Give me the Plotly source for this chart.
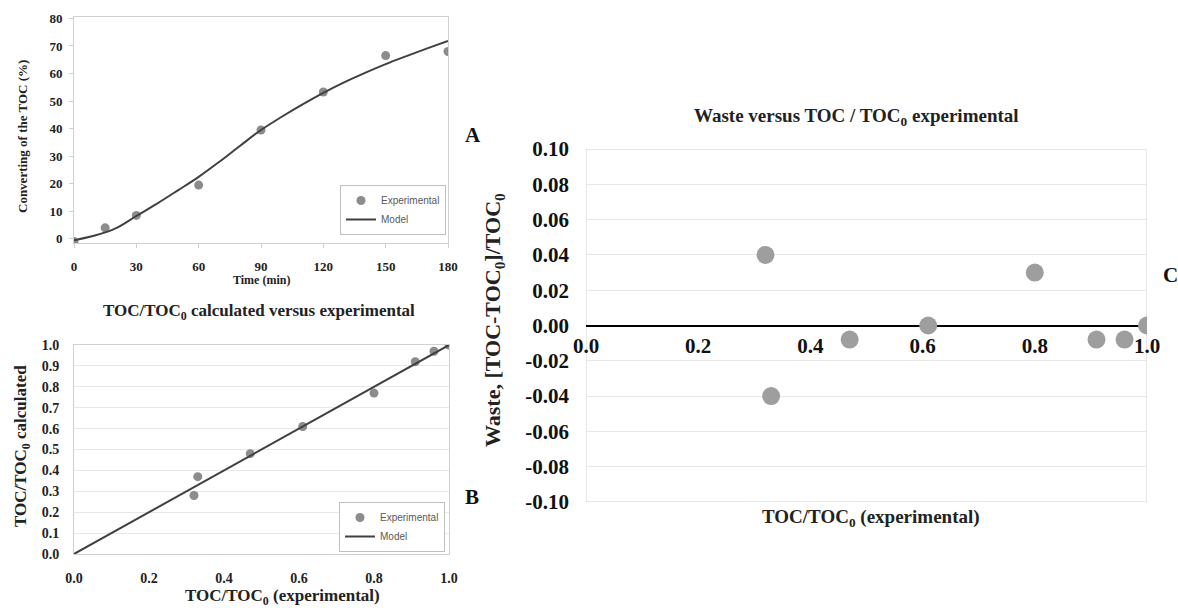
import plotly.graph_objects as go

# ---------------- Data ----------------
# Panel A: TOC conversion vs time
time_exp = [0, 15, 30, 60, 90, 120, 150, 180]
conv_exp = [-1.0, 4.0, 8.5, 19.5, 39.5, 53.3, 66.5, 68.0]
time_model = [0, 10, 20, 30, 40, 50, 60, 70, 80, 90, 100, 110, 120, 130, 140, 150, 160, 170, 180]
conv_model = [-0.5, 1.2, 3.8, 8.3, 12.8, 17.6, 22.5, 28.0, 33.8, 39.5, 44.3, 48.8, 53.0,
              56.8, 60.2, 63.4, 66.3, 69.1, 71.8]
a_xticks = [0, 30, 60, 90, 120, 150, 180]
a_yticks = [0, 10, 20, 30, 40, 50, 60, 70, 80]

# Panel B: TOC/TOC0 calculated vs experimental
b_exp = [0.32, 0.33, 0.47, 0.61, 0.80, 0.91, 0.96, 1.00]
b_calc = [0.28, 0.37, 0.48, 0.61, 0.77, 0.92, 0.97, 1.00]
b_model_x = [0.0, 1.0]
b_model_y = [0.0, 1.0]
b_xticks = [0.0, 0.2, 0.4, 0.6, 0.8, 1.0]
b_xticklabels = ["0.0", "0.2", "0.4", "0.6", "0.8", "1.0"]
b_yticks = [0.0, 0.1, 0.2, 0.3, 0.4, 0.5, 0.6, 0.7, 0.8, 0.9, 1.0]
b_yticklabels = ["0.0", "0.1", "0.2", "0.3", "0.4", "0.5", "0.6", "0.7", "0.8", "0.9", "1.0"]

# Panel C: waste vs TOC/TOC0 experimental
c_x = [0.32, 0.33, 0.47, 0.61, 0.80, 0.91, 0.96, 1.00]
c_waste = [0.04, -0.04, -0.008, 0.0, 0.03, -0.008, -0.008, 0.0]
c_xticks = [0.0, 0.2, 0.4, 0.6, 0.8, 1.0]
c_xticklabels = ["0.0", "0.2", "0.4", "0.6", "0.8", "1.0"]
c_yticks = [-0.10, -0.08, -0.06, -0.04, -0.02, 0.00, 0.02, 0.04, 0.06, 0.08, 0.10]
c_yticklabels = ["-0.10", "-0.08", "-0.06", "-0.04", "-0.02", "0.00",
                 "0.02", "0.04", "0.06", "0.08", "0.10"]

# ---------------- Layout helpers ----------------
W, H = 1178, 608
def px(x):
    return x / W
def py(y):
    return 1 - y / H

SERIF = "Liberation Serif"
SANS = "Liberation Sans"
PT_A = "#8c8c8c"
PT_C = "#9e9e9e"
LINE = "#404040"
BORDER = "#d0d0d0"
GRID = "#e8e8e8"

fig = go.Figure()

# Panel A traces
fig.add_trace(go.Scatter(x=time_exp, y=conv_exp, mode="markers", name="Experimental",
                         marker=dict(color=PT_A, size=9), xaxis="x", yaxis="y", legend="legend"))
fig.add_trace(go.Scatter(x=time_model, y=conv_model, mode="lines", name="Model",
                         line=dict(color=LINE, width=2, shape="spline"), xaxis="x", yaxis="y",
                         legend="legend"))
# Panel B traces
fig.add_trace(go.Scatter(x=b_exp, y=b_calc, mode="markers", name="Experimental",
                         marker=dict(color=PT_A, size=9), xaxis="x2", yaxis="y2", legend="legend2"))
fig.add_trace(go.Scatter(x=b_model_x, y=b_model_y, mode="lines", name="Model",
                         line=dict(color=LINE, width=2), xaxis="x2", yaxis="y2", legend="legend2"))
# Panel C trace
fig.add_trace(go.Scatter(x=c_x, y=c_waste, mode="markers", showlegend=False,
                         marker=dict(color=PT_C, size=18), xaxis="x3", yaxis="y3"))

tickfont_a = dict(family=SERIF, size=13, color="#222222", weight="bold")
tickfont_b = dict(family=SERIF, size=14, color="#222222", weight="bold")
tickfont_c = dict(family=SERIF, size=21, color="#111111", weight="bold")

fig.update_layout(
    width=W, height=H,
    margin=dict(l=0, r=0, t=0, b=0, autoexpand=False),
    paper_bgcolor="white", plot_bgcolor="white",
    font=dict(family=SERIF, color="#222222"),
    # Panel A
    xaxis=dict(domain=[px(74), px(448)], anchor="y", range=[0, 180], automargin=False,
               tickvals=a_xticks, showgrid=False, zeroline=False,
               showline=True, linecolor=BORDER, mirror=True,
               ticks="outside", ticklen=4, tickcolor=BORDER,
               tickfont=tickfont_a, ticklabelstandoff=7),
    yaxis=dict(domain=[py(243), py(17)], anchor="x", range=[-1.5, 80.5], automargin=False,
               tickvals=a_yticks, showgrid=False, zeroline=False,
               showline=True, linecolor=BORDER, mirror=True,
               ticks="outside", ticklen=4, tickcolor=BORDER,
               tickfont=tickfont_a, ticklabelstandoff=4),
    # Panel B
    xaxis2=dict(domain=[px(74), px(449)], anchor="y2", range=[0, 1], automargin=False,
                tickvals=b_xticks, ticktext=b_xticklabels, showgrid=False, zeroline=False,
                showline=True, linecolor=BORDER, mirror=True, ticks="",
                tickfont=tickfont_b, ticklabelstandoff=11),
    yaxis2=dict(domain=[py(554), py(345)], anchor="x2", range=[0, 1], automargin=False,
                tickvals=b_yticks, ticktext=b_yticklabels, showgrid=True, gridcolor=GRID,
                zeroline=False, showline=True, linecolor=BORDER, mirror=True, ticks="",
                tickfont=tickfont_b, ticklabelstandoff=11),
    # Panel C
    xaxis3=dict(domain=[px(586), px(1147)], anchor="free", position=py(327), range=[0, 1],
                automargin=False,
                tickvals=c_xticks, ticktext=c_xticklabels, showgrid=False, zeroline=False,
                showline=False, ticks="", tickfont=tickfont_c, ticklabelstandoff=4),
    yaxis3=dict(domain=[py(502), py(149)], anchor="x3", range=[-0.1, 0.1], automargin=False,
                tickvals=c_yticks, ticktext=c_yticklabels, showgrid=True, gridcolor=GRID,
                zeroline=True, zerolinecolor="#000000", zerolinewidth=1.5,
                showline=False, ticks="", tickfont=tickfont_c, ticklabelstandoff=16),
    legend=dict(x=px(340), y=py(185), xanchor="left", yanchor="top",
                bgcolor="white", bordercolor="#bfbfbf", borderwidth=1,
                font=dict(family=SANS, size=10, color="#595959"),
                tracegroupgap=0, itemwidth=30),
    legend2=dict(x=px(339), y=py(502), xanchor="left", yanchor="top",
                 bgcolor="white", bordercolor="#bfbfbf", borderwidth=1,
                 font=dict(family=SANS, size=10, color="#595959"),
                 tracegroupgap=0, itemwidth=30),
    shapes=[
        dict(type="rect", xref="x3", yref="y3", x0=0, x1=1, y0=-0.1, y1=0.1,
             line=dict(color=BORDER, width=1), layer="below"),
    ],
)

def ann(text, x, y, size, angle=0, color="#222222"):
    fig.add_annotation(text=text, x=px(x), y=py(y), xref="paper", yref="paper",
                       showarrow=False, textangle=angle, xanchor="center", yanchor="middle",
                       font=dict(family=SERIF, size=size, color=color))

# Panel A titles
ann("<b>Converting of the TOC (%)</b>", 23, 137, 13, angle=-90)
ann("<b>Time (min)</b>", 261, 280, 12)
# Panel B titles
ann("<b>TOC/TOC<sub>0</sub> calculated versus experimental</b>", 259, 312, 17)
ann("<b>TOC/TOC<sub>0</sub> calculated</b>", 22, 446, 17, angle=-90)
ann("<b>TOC/TOC<sub>0</sub> (experimental)</b>", 282, 597, 17)
# Panel C titles
ann("<b>Waste versus TOC / TOC<sub>0</sub> experimental</b>", 856, 117, 19)
ann("<b>Waste, [TOC-TOC<sub>0</sub>]/TOC<sub>0</sub></b>", 494, 320, 22, angle=-90)
ann("<b>TOC/TOC<sub>0</sub> (experimental)</b>", 871, 518, 19)
# Panel letters
ann("<b>A</b>", 473, 135, 21, color="#111111")
ann("<b>B</b>", 472, 497, 21, color="#111111")
ann("<b>C</b>", 1170, 275, 21, color="#111111")

fig.write_html("out.html", config={"displayModeBar": False},
               post_script="document.body.style.margin='0px';")
